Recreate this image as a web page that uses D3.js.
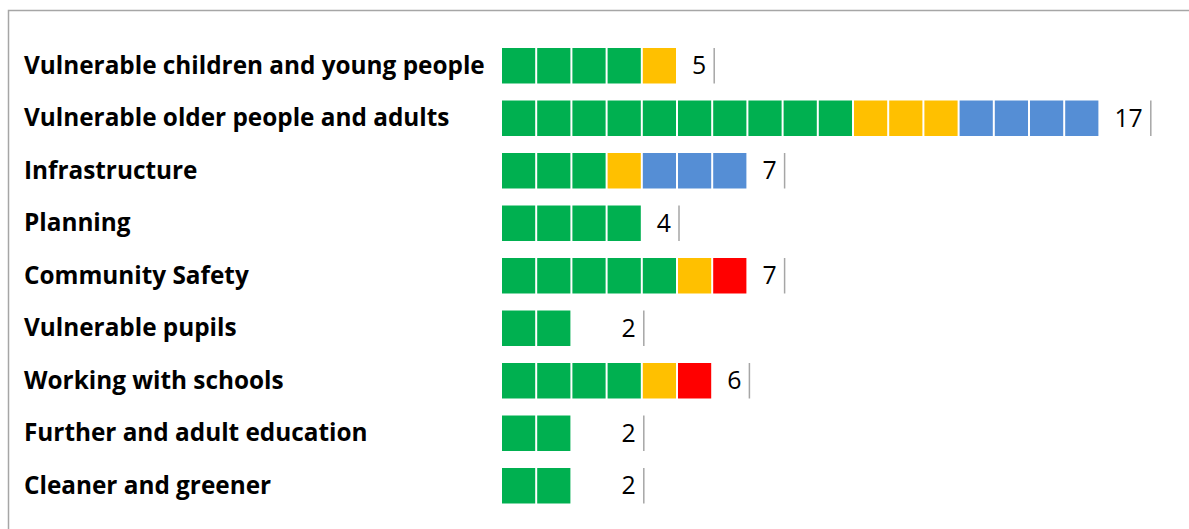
<!DOCTYPE html>
<html>
<head>
<meta charset="utf-8">
<script src="https://cdn.jsdelivr.net/npm/d3@7"></script>
<style>
  html, body { margin: 0; padding: 0; background: #fff; }
  svg { display: block; }
</style>
</head>
<body>
<svg id="chart" width="1189" height="529"></svg>
<script>
// categories, top to bottom
const categories = [
    "Vulnerable children and young people",
    "Vulnerable older people and adults",
    "Infrastructure",
    "Planning",
    "Community Safety",
    "Vulnerable pupils",
    "Working with schools",
    "Further and adult education",
    "Cleaner and greener"
];
// number of units per status
const green = [4, 10, 3, 4, 5, 2, 4, 2, 2];
const amber = [1, 3, 1, 0, 1, 0, 1, 0, 0];
const blue  = [0, 4, 3, 0, 0, 0, 0, 0, 0];
const red   = [0, 0, 0, 0, 1, 0, 1, 0, 0];
// empty (transparent) unit that pushes the label out
const blank = [0, 0, 0, 0, 0, 1, 0, 1, 1];

const series = [
    {key: "green", values: green, color: "#00b050"},
    {key: "amber", values: amber, color: "#ffc000"},
    {key: "blue",  values: blue,  color: "#558ed5"},
    {key: "red",   values: red,   color: "#ff0000"},
    {key: "blank", values: blank, color: "none"}
];

const svg = d3.select("#chart");

// frame (clipped by the window on the right and bottom)
svg.append("rect")
    .attr("x", 8.5).attr("y", 10.5)
    .attr("width", 1300).attr("height", 700)
    .attr("fill", "none")
    .attr("stroke", "#a6a6a6")
    .attr("stroke-width", 1.5);

const y = d3.scaleBand()
    .domain(categories)
    .range([39.5, 512])
    .paddingInner(0.324)
    .paddingOuter(0.162);

const x = d3.scaleLinear()
    .domain([0, 17])
    .range([502, 1100.4]);

// one record per unit square
const units = [];
const ends = [];
categories.forEach((c, i) => {
    let pos = 0;
    series.forEach(s => {
        for (let k = 0; k < s.values[i]; k++) {
            units.push({cat: c, pos: pos, color: s.color});
            pos++;
        }
    });
    ends.push({cat: c, pos: pos, total: green[i] + amber[i] + blue[i] + red[i]});
});

const unitW = x(1) - x(0);

svg.append("g")
    .selectAll("rect")
    .data(units.filter(u => u.color !== "none"))
    .join("rect")
    .attr("x", d => x(d.pos))
    .attr("y", d => y(d.cat))
    .attr("width", unitW - 2)
    .attr("height", y.bandwidth())
    .attr("fill", d => d.color);

// category labels
const labels = svg.append("g")
    .selectAll("text")
    .data(categories)
    .join("text")
    .attr("x", 24)
    .attr("y", d => y(d) + y.bandwidth() / 2)
    .attr("dy", "0.33em")
    .attr("font-family", "'Open Sans', sans-serif")
    .attr("font-weight", "bold")
    .attr("font-size", 22)
    .attr("fill", "#000")
    .text(d => d);

// fit the longest label to the reference width
const longest = d3.max(labels.nodes(), n => n.getComputedTextLength());
const fs = 22 * 461 / longest;
labels.attr("font-size", fs);

// totals with thin separator
const tot = svg.append("g")
    .selectAll("g")
    .data(ends)
    .join("g");

tot.append("text")
    .attr("x", d => x(d.pos) + 14)
    .attr("y", d => y(d.cat) + y.bandwidth() / 2)
    .attr("dy", "0.35em")
    .attr("font-family", "'Open Sans', sans-serif")
    .attr("font-size", fs * 1.02)
    .attr("fill", "#000")
    .text(d => d.total);

tot.each(function(d) {
    const t = d3.select(this).select("text");
    const w = t.node().getComputedTextLength();
    d3.select(this).append("line")
        .attr("x1", x(d.pos) + 14 + w + 8)
        .attr("x2", x(d.pos) + 14 + w + 8)
        .attr("y1", y(d.cat))
        .attr("y2", y(d.cat) + y.bandwidth())
        .attr("stroke", "#a6a6a6")
        .attr("stroke-width", 1.5);
});
</script>
</body>
</html>
